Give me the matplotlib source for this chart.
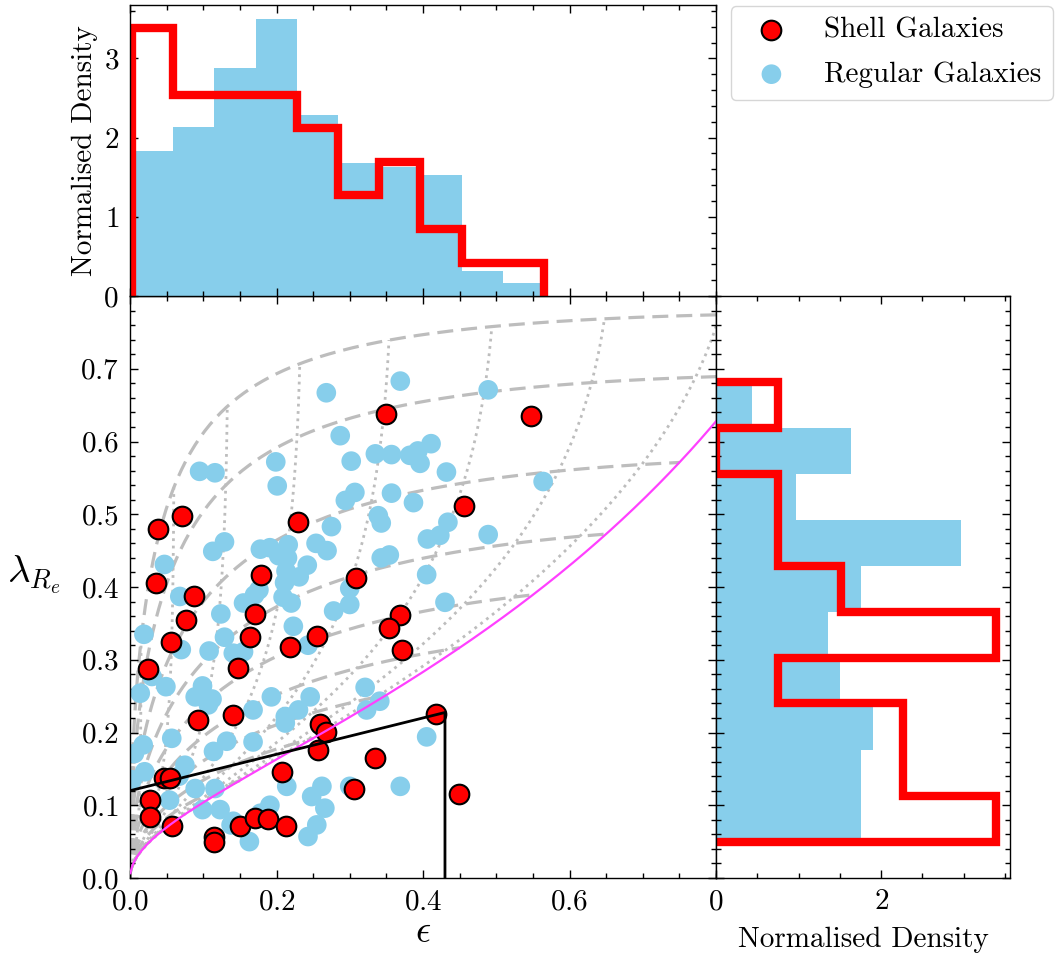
import numpy as np
import matplotlib
matplotlib.use("Agg")
import matplotlib.pyplot as plt
from matplotlib.ticker import MultipleLocator

# lambda_Re - epsilon diagram, shell vs regular galaxies, with marginal histograms

plt.rcParams.update({
    "font.family": "serif",
    "font.serif": ["cmr10"],
    "mathtext.fontset": "cm",
    "axes.formatter.use_mathtext": True,
    "font.size": 21,
    "xtick.direction": "in",
    "ytick.direction": "in",
    "xtick.top": True,
    "ytick.right": True,
    "xtick.major.size": 6,
    "ytick.major.size": 6,
    "xtick.minor.size": 3.5,
    "ytick.minor.size": 3.5,
    "xtick.major.pad": 8,
    "ytick.major.pad": 8,
    "axes.linewidth": 1.0,
})

# --- data ---
shell_eps = [0.038, 0.071, 0.229, 0.350, 0.548, 0.456, 0.179, 0.035, 0.087, 0.309,
             0.077, 0.170, 0.369, 0.353, 0.255, 0.164, 0.056, 0.219, 0.371, 0.147,
             0.024, 0.093, 0.141, 0.259, 0.268, 0.257, 0.207, 0.046, 0.055, 0.027,
             0.027, 0.057, 0.114, 0.114, 0.150, 0.170, 0.188, 0.213, 0.418, 0.334,
             0.306, 0.449]
shell_lam = [0.480, 0.498, 0.489, 0.638, 0.635, 0.512, 0.417, 0.406, 0.387, 0.413,
             0.355, 0.363, 0.361, 0.344, 0.332, 0.331, 0.324, 0.318, 0.313, 0.288,
             0.287, 0.217, 0.224, 0.211, 0.201, 0.176, 0.146, 0.137, 0.137, 0.107,
             0.084, 0.071, 0.057, 0.050, 0.071, 0.082, 0.081, 0.071, 0.226, 0.165,
             0.122, 0.116]

reg_eps = [0.268, 0.369, 0.489, 0.287, 0.199, 0.201, 0.302, 0.095, 0.116, 0.335,
           0.357, 0.382, 0.393, 0.411, 0.396, 0.432, 0.564, 0.307, 0.294, 0.357,
           0.387, 0.339, 0.343, 0.434, 0.489, 0.275, 0.406, 0.423, 0.343, 0.354,
           0.405, 0.430, 0.113, 0.129, 0.047, 0.068, 0.178, 0.191, 0.203, 0.216,
           0.215, 0.213, 0.254, 0.269, 0.242, 0.231, 0.211, 0.209, 0.220, 0.176,
           0.170, 0.155, 0.300, 0.300, 0.278, 0.124, 0.223, 0.243, 0.019, 0.070,
           0.129, 0.141, 0.155, 0.108, 0.030, 0.049, 0.014, 0.099, 0.089, 0.107,
           0.112, 0.193, 0.246, 0.168, 0.212, 0.212, 0.230, 0.321, 0.341, 0.323,
           0.405, 0.018, 0.006, 0.057, 0.075, 0.114, 0.132, 0.168, 0.020, 0.003,
           0.054, 0.089, 0.116, 0.099, 0.123, 0.141, 0.178, 0.191, 0.163, 0.214,
           0.248, 0.262, 0.266, 0.255, 0.243, 0.300, 0.369, 0.138, 0.067]
reg_lam = [0.667, 0.683, 0.671, 0.608, 0.572, 0.539, 0.573, 0.559, 0.557, 0.583,
           0.582, 0.581, 0.587, 0.597, 0.570, 0.558, 0.545, 0.530, 0.519, 0.529,
           0.516, 0.498, 0.488, 0.489, 0.472, 0.483, 0.466, 0.471, 0.440, 0.444,
           0.417, 0.379, 0.449, 0.462, 0.431, 0.387, 0.452, 0.454, 0.443, 0.458,
           0.440, 0.422, 0.460, 0.450, 0.430, 0.414, 0.406, 0.386, 0.378, 0.396,
           0.389, 0.378, 0.398, 0.376, 0.367, 0.363, 0.346, 0.320, 0.335, 0.314,
           0.331, 0.309, 0.311, 0.312, 0.277, 0.263, 0.254, 0.264, 0.249, 0.238,
           0.246, 0.249, 0.249, 0.231, 0.222, 0.213, 0.231, 0.262, 0.243, 0.231,
           0.194, 0.183, 0.171, 0.192, 0.155, 0.174, 0.188, 0.187, 0.146, 0.135,
           0.107, 0.123, 0.123, 0.094, 0.094, 0.078, 0.089, 0.100, 0.050, 0.126,
           0.112, 0.126, 0.096, 0.073, 0.057, 0.126, 0.126, 0.073, 0.140]

# normalised histograms (bin edges + densities)
eps_edges = [0.003, 0.059, 0.115, 0.172, 0.228, 0.284, 0.340, 0.396, 0.453, 0.509, 0.565]
reg_eps_dens = [1.83, 2.13, 2.88, 3.50, 2.28, 1.68, 1.63, 1.53, 0.32, 0.17]
shell_eps_dens = [3.39, 2.54, 2.54, 2.54, 2.12, 1.27, 1.69, 0.85, 0.42, 0.42]

lam_edges = [0.050, 0.113, 0.176, 0.240, 0.303, 0.366, 0.429, 0.492, 0.556, 0.619, 0.682]
reg_lam_dens = [1.76, 1.76, 1.90, 1.50, 1.36, 1.76, 2.97, 0.97, 1.63, 0.43]
shell_lam_dens = [3.39, 2.26, 2.26, 0.75, 3.39, 1.51, 0.75, 0.75, 0.0, 0.75]

# theory grid (Binney 2005 / Cappellari 2007 style)
KAPPA = 1.0
ALPHA = 0.15
BETA = 0.7
q_intr = [0.05, 0.15, 0.25, 0.35, 0.45, 0.55, 0.65, 0.75, 0.85, 0.91]
incl_deg = [10, 20, 30, 40, 50, 60, 70, 80]

# slow rotator box: lambda < 0.12 + eps/4, eps < 0.43
sr_a, sr_b, sr_eps_max = 0.12, 0.25, 0.43


def omega(e):
    s = np.sqrt(1 - e**2)
    a = np.arcsin(e)
    return 0.5 * (a - e * s) / (e * s - (1 - e**2) * a)


def project(q, incl):
    q = np.asarray(q, dtype=float)
    e = np.sqrt(1 - (1 - q)**2)
    delta = BETA * q
    om = (1 - delta) * omega(e)
    vs_edge = np.sqrt(np.clip((om - 1) / (ALPHA * om + 1), 0, None))
    i = np.radians(incl)
    vs = vs_edge * np.sin(i) / np.sqrt(1 - delta * np.cos(i)**2)
    eps = 1 - np.sqrt(1 - q * (2 - q) * np.sin(i)**2)
    lam = KAPPA * vs / np.sqrt(1 + KAPPA**2 * vs**2)
    return eps, lam


W, H = 1056, 960
fig = plt.figure(figsize=(W / 100, H / 100), dpi=100)
x0, x1, x2 = 130 / W, 716 / W, 1010 / W
y0, y1, y2 = 1 - 878 / H, 1 - 296 / H, 1 - 5 / H
ax = fig.add_axes([x0, y0, x1 - x0, y1 - y0])
ax_top = fig.add_axes([x0, y1, x1 - x0, y2 - y1], sharex=ax)
ax_right = fig.add_axes([x1, y0, x2 - x1, y1 - y0], sharey=ax)

# theory lines
grey = "#bdbdbd"
for q in q_intr:
    e, l = project(q, np.linspace(0, 90, 200))
    ax.plot(e, l, ls=(0, (5, 2.5)), color=grey, lw=2.3, zorder=1)
for inc in incl_deg:
    e, l = project(np.linspace(0.003, q_intr[-1], 200), inc)
    ax.plot(e, l, ls=":", color=grey, lw=2.0, zorder=1)
e, l = project(np.linspace(0.0005, 0.95, 400), 90)
ax.plot(e, l, color="#ff40ff", lw=1.6, zorder=4)

# slow rotator region
ax.plot([0, sr_eps_max, sr_eps_max], [sr_a, sr_a + sr_b * sr_eps_max, 0],
        color="black", lw=2.0, zorder=5)

reg = ax.scatter(reg_eps, reg_lam, s=200, color="skyblue", edgecolors="none",
                 zorder=2, label="Regular Galaxies")
shell = ax.scatter(shell_eps, shell_lam, s=200, color="red", edgecolors="black",
                   linewidths=1.5, zorder=3, label="Shell Galaxies")

ax.set_xlim(0, 0.8)
ax.set_ylim(0, 0.8)
ax.set_xticks([0.0, 0.2, 0.4, 0.6])
ax.set_yticks([0.0, 0.1, 0.2, 0.3, 0.4, 0.5, 0.6, 0.7])
ax.xaxis.set_minor_locator(MultipleLocator(0.05))
ax.yaxis.set_minor_locator(MultipleLocator(0.02))
ax.set_xlabel(r"$\epsilon$", fontsize=27, labelpad=0)
ax.set_ylabel(r"$\lambda_{R_e}$", fontsize=28, rotation=0, ha="center", va="center")
ax.yaxis.set_label_coords(-0.165, 0.52)

# top histogram (epsilon)
ax_top.stairs(reg_eps_dens, eps_edges, fill=True, color="skyblue", zorder=1)
ax_top.stairs(shell_eps_dens, eps_edges, color="red", lw=6, zorder=2)
ax_top.set_ylim(0, 3.675)
ax_top.set_yticks([0, 1, 2, 3])
ax_top.yaxis.set_minor_locator(MultipleLocator(0.2))
ax_top.tick_params(axis="x", labelbottom=False)
ax_top.set_ylabel("Normalised Density")

# right histogram (lambda)
ax_right.stairs(reg_lam_dens, lam_edges, fill=True, color="skyblue",
                orientation="horizontal", zorder=1)
ax_right.stairs(shell_lam_dens, lam_edges, color="red", lw=6,
                orientation="horizontal", zorder=2)
ax_right.set_xlim(0, 3.56)
ax_right.set_xticks([0, 2])
ax_right.xaxis.set_minor_locator(MultipleLocator(0.5))
ax_right.tick_params(axis="y", labelleft=False)
ax_right.set_xlabel("Normalised Density", labelpad=8)

for a in (ax, ax_top, ax_right):
    a.tick_params(which="both", width=1.0)

fig.legend(handles=[shell, reg], loc="upper right", bbox_to_anchor=(0.997, 0.994),
           borderaxespad=0, fontsize=21, labelspacing=0.6)

fig.savefig("out.png", dpi=100)
